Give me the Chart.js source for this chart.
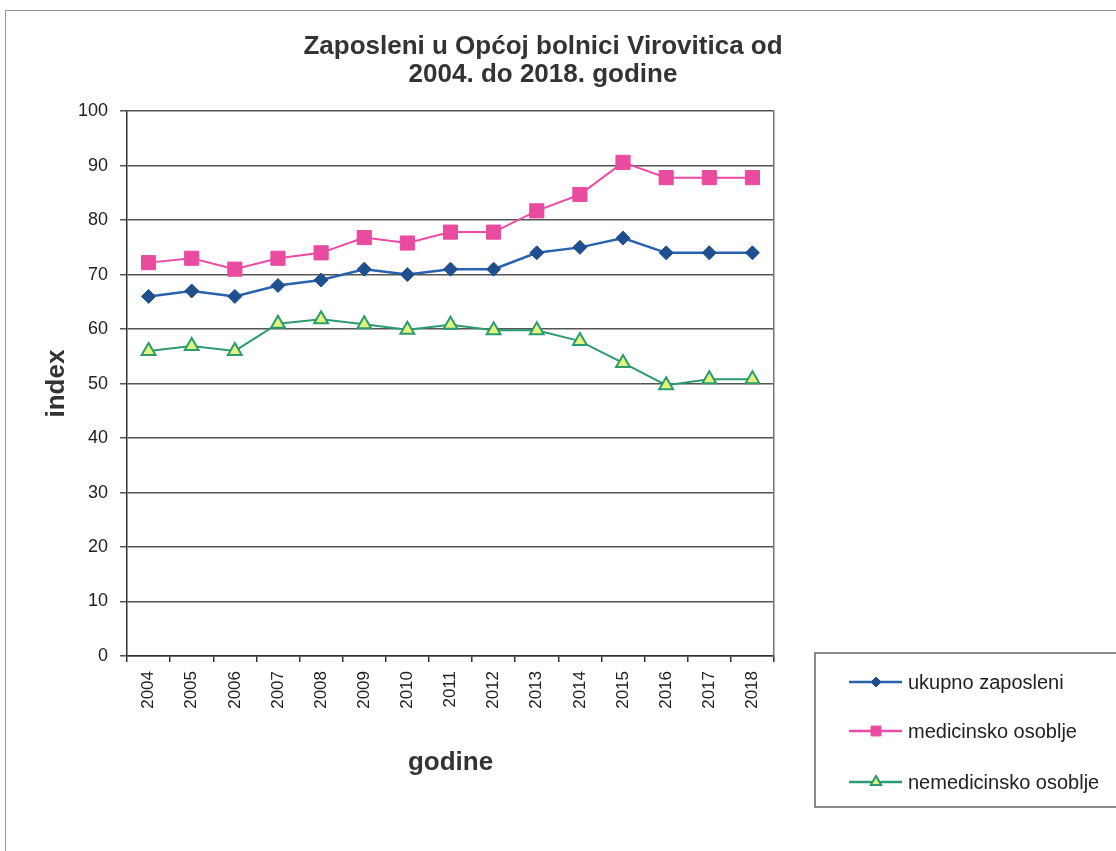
<!DOCTYPE html>
<html>
<head>
<meta charset="utf-8">
<title>Zaposleni u Općoj bolnici Virovitica</title>
<script src="https://cdn.jsdelivr.net/npm/chart.js@4.4.1/dist/chart.umd.min.js"></script>
<style>
  html, body { margin: 0; padding: 0; background: #fff; }
  #wrap { position: relative; width: 1116px; height: 851px; overflow: hidden; }
  #frame { position: absolute; left: 5px; top: 10px; width: 1200px; height: 900px;
           border-left: 1.5px solid #999; border-top: 1.5px solid #999; }
  #chart { position: absolute; left: 0; top: 0; }
</style>
</head>
<body>
<div id="wrap">
  <div id="frame"></div>
  <canvas id="chart" width="1116" height="851"></canvas>
</div>
<script>
// data
const years = ['2004', '2005', '2006', '2007', '2008', '2009', '2010', '2011',
               '2012', '2013', '2014', '2015', '2016', '2017', '2018'];
const ukupnoZaposleni = [66, 67, 66, 68, 69, 71, 70, 71, 71, 74, 75, 76.7, 74, 74, 74];
const medicinskoOsoblje = [72.2, 73, 71, 73, 74, 76.8, 75.8, 77.8, 77.8, 81.7, 84.7, 90.6, 87.8, 87.8, 87.8];
const nemedicinskoOsoblje = [56, 56.9, 56, 61, 61.8, 60.9, 59.9, 60.8, 59.8, 59.8, 57.8, 53.8, 49.7, 50.8, 50.8];
const seriesNames = ['ukupno zaposleni', 'medicinsko osoblje', 'nemedicinsko osoblje'];
const yMin = 0, yMax = 100, yStep = 10;

const fontFam = 'Arial, "Liberation Sans", sans-serif';

// legend drawn in its own box at bottom right
const boxLegend = {
    id: 'boxLegend',
    afterDraw(chart) {
        const ctx = chart.ctx;
        ctx.save();
        ctx.strokeStyle = '#666';
        ctx.lineWidth = 1.5;
        ctx.strokeRect(815, 653, 400, 154);
        const rows = [682, 731, 782];
        const sizes = [5, 7, 6];
        chart.data.datasets.forEach((ds, i) => {
            const y = rows[i];
            ctx.strokeStyle = ds.borderColor;
            ctx.lineWidth = 2.5;
            ctx.beginPath();
            ctx.moveTo(849, y);
            ctx.lineTo(902, y);
            ctx.stroke();
            ctx.fillStyle = ds.pointBackgroundColor;
            ctx.strokeStyle = ds.pointBorderColor;
            ctx.lineWidth = ds.pointBorderWidth;
            Chart.helpers.drawPoint(ctx, { pointStyle: ds.pointStyle, radius: sizes[i], borderWidth: ds.pointBorderWidth, rotation: 0 }, 876, y);
            ctx.fillStyle = '#222';
            ctx.font = '20px ' + fontFam;
            ctx.textBaseline = 'middle';
            ctx.fillText(ds.label, 908, y + 1);
        });
        ctx.restore();
    }
};

new Chart(document.getElementById('chart'), {
    type: 'line',
    data: {
        labels: years,
        datasets: [{
            label: seriesNames[0],
            data: ukupnoZaposleni,
            borderColor: '#2a62b0',
            borderWidth: 2.5,
            pointStyle: 'rectRot',
            pointRadius: 7,
            pointBackgroundColor: '#1f4f8f',
            pointBorderColor: '#1f4f8f',
            pointBorderWidth: 1
        }, {
            label: seriesNames[1],
            data: medicinskoOsoblje,
            borderColor: '#ee4aa6',
            borderWidth: 2,
            pointStyle: 'rect',
            pointRadius: 10,
            pointBackgroundColor: '#e94c9f',
            pointBorderColor: '#e94c9f',
            pointBorderWidth: 1
        }, {
            label: seriesNames[2],
            data: nemedicinskoOsoblje,
            borderColor: '#2c9b6e',
            borderWidth: 2,
            pointStyle: 'triangle',
            pointRadius: 8,
            pointBackgroundColor: '#e2f47e',
            pointBorderColor: '#2c9b6e',
            pointBorderWidth: 2
        }]
    },
    options: {
        responsive: false,
        animation: false,
        layout: { padding: { left: 0, right: 30, top: 0, bottom: 0 } },
        plugins: {
            legend: { display: false },
            tooltip: { enabled: false },
            title: {
                display: true,
                text: ['Zaposleni u Općoj bolnici Virovitica od', '2004. do 2018. godine'],
                color: '#333',
                font: { family: fontFam, size: 26, weight: 'bold', lineHeight: 1.08 },
                padding: { top: 33, bottom: 22 }
            }
        },
        scales: {
            x: {
                offset: true,
                grid: { display: true, drawOnChartArea: false, drawTicks: true, tickLength: 6, offset: true, color: '#333', lineWidth: 1.5 },
                border: { display: true, color: '#333', width: 1.5 },
                ticks: {
                    minRotation: 90, maxRotation: 90, padding: 9, color: '#222',
                    font: { family: fontFam, size: 17 }
                },
                title: {
                    display: true, text: 'godine', color: '#333',
                    font: { family: fontFam, size: 26, weight: 'bold' },
                    padding: { top: 0, bottom: 73 }
                },
                afterFit(scale) { scale.height = 195; }
            },
            y: {
                min: yMin, max: yMax,
                grid: { color: '#555', lineWidth: 1.5, tickLength: 7 },
                border: { display: true, color: '#333', width: 1.5 },
                ticks: {
                    stepSize: yStep, padding: 12, color: '#222',
                    font: { family: fontFam, size: 18 }
                },
                title: {
                    display: true, text: 'index', color: '#333',
                    font: { family: fontFam, size: 26, weight: 'bold' },
                    padding: { top: 41, bottom: 0 }
                },
                afterFit(scale) { scale.width = 127; }
            },
            yRight: {
                position: 'right',
                min: yMin, max: yMax,
                grid: { display: false },
                ticks: { display: false },
                border: { display: true, color: '#777', width: 1.5 },
                afterFit(scale) { scale.width = 312; }
            }
        }
    },
    plugins: [boxLegend]
});
</script>
</body>
</html>
